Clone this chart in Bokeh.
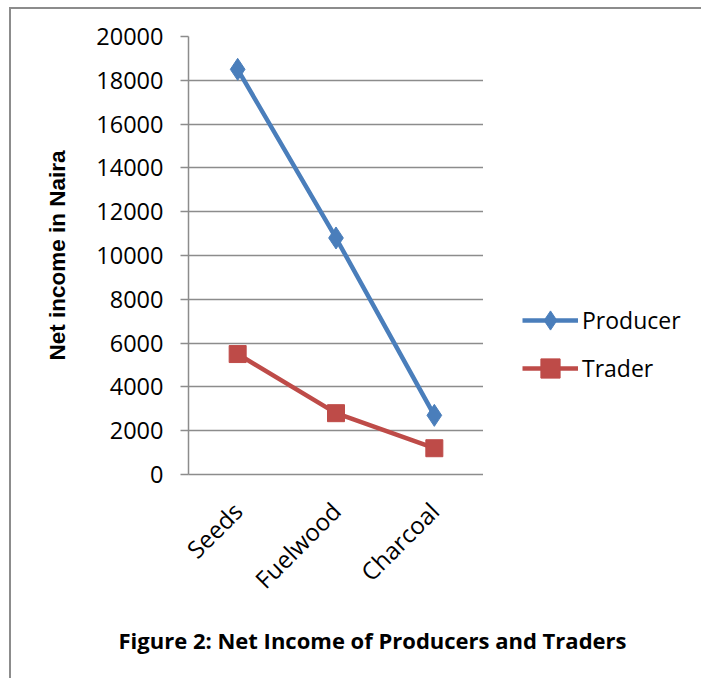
import math
from bokeh.plotting import figure
from bokeh.layouts import row, column
from bokeh.models import Legend, LegendItem, Label, FixedTicker, ColumnDataSource, Range1d
from bokeh.embed import file_html
from bokeh.resources import INLINE

categories = ["Seeds", "Fuelwood", "Charcoal"]
producer = [18500, 10800, 2700]
trader = [5500, 2800, 1200]
y_ticks = [0, 2000, 4000, 6000, 8000, 10000, 12000, 14000, 16000, 18000, 20000]
title_text = "Figure 2: Net Income of Producers and Traders"
y_label = "Net income in Naira"
series_names = ["Producer", "Trader"]

GRAY = "#8c8c8c"
BLUE = "#4a7ebb"
RED = "#be4b48"
FONT = "Open Sans"
H_MAIN = 610
H_TITLE = 59
TOP = 27
BOTTOM = H_MAIN - 465


def bare(fig):
    fig.outline_line_color = None
    fig.xgrid.grid_line_color = None
    fig.ygrid.grid_line_color = None
    fig.border_fill_color = "white"
    fig.background_fill_color = "white"


p = figure(x_range=categories, y_range=(0, 20000), width=472, height=H_MAIN,
           output_backend="svg", toolbar_location=None,
           min_border_left=177, min_border_right=0,
           min_border_top=TOP, min_border_bottom=BOTTOM)
p.outline_line_color = None
p.background_fill_color = "white"
p.border_fill_color = "white"

p.xgrid.grid_line_color = None
p.ygrid.grid_line_color = GRAY
p.ygrid.grid_line_width = 1.5
p.yaxis.ticker = FixedTicker(ticks=y_ticks)

p.yaxis.axis_line_color = GRAY
p.yaxis.axis_line_width = 1.5
p.yaxis.major_tick_line_color = GRAY
p.yaxis.major_tick_line_width = 1.5
p.yaxis.major_tick_out = 8
p.yaxis.major_tick_in = 0
p.yaxis.minor_tick_line_color = None
p.yaxis.major_label_text_font = FONT
p.yaxis.major_label_text_font_size = "23.5px"
p.yaxis.major_label_text_color = "black"
p.yaxis.major_label_standoff = 17
p.yaxis.axis_label = y_label
p.yaxis.axis_label_text_font = "Liberation Sans"
p.yaxis.axis_label_text_font_style = "bold"
p.yaxis.axis_label_text_font_size = "22.5px"
p.yaxis.axis_label_text_color = "black"
p.yaxis.axis_label_standoff = 23

p.xaxis.axis_line_color = GRAY
p.xaxis.axis_line_width = 1.5
p.xaxis.major_tick_line_color = None
p.xaxis.minor_tick_line_color = None
p.xaxis.major_tick_out = 0
p.xaxis.major_label_text_font = FONT
p.xaxis.major_label_text_font_size = "24px"
p.xaxis.major_label_text_color = "black"
p.xaxis.major_label_orientation = math.pi / 4
p.xaxis.major_label_standoff = 32

p.line(categories, producer, line_color=BLUE, line_width=4.5)
p.scatter(categories, producer, marker="diamond", size=22, fill_color=BLUE, line_color=BLUE)
p.line(categories, trader, line_color=RED, line_width=4.5)
p.scatter(categories, trader, marker="square", size=17, fill_color=RED, line_color=RED)

# legend panel to the right of the plot area
q = figure(width=218, height=H_MAIN, output_backend="svg", toolbar_location=None,
           x_axis_type=None, y_axis_type=None,
           x_range=Range1d(0, 1), y_range=Range1d(0, 1),
           min_border_left=0, min_border_right=0, min_border_top=TOP, min_border_bottom=BOTTOM)
bare(q)
off = ColumnDataSource(data=dict(x=[10, 11], y=[10, 11]))
ql1 = q.line("x", "y", source=off, line_color=BLUE, line_width=4.5)
qm1 = q.scatter("x", "y", source=off, marker="diamond", size=22, fill_color=BLUE, line_color=BLUE)
ql2 = q.line("x", "y", source=off, line_color=RED, line_width=4.5)
qm2 = q.scatter("x", "y", source=off, marker="square", size=17, fill_color=RED, line_color=RED)

legend = Legend(items=[LegendItem(label=series_names[0], renderers=[ql1, qm1]),
                       LegendItem(label=series_names[1], renderers=[ql2, qm2])],
                location=(39, 82), margin=0, padding=0,
                border_line_color=None, background_fill_alpha=0,
                glyph_width=56, glyph_height=48, spacing=-1, label_standoff=4,
                label_text_font=FONT, label_text_font_size="23px",
                label_text_color="black")
q.add_layout(legend, "center")

# caption below the chart
r = figure(width=690, height=H_TITLE, output_backend="svg", toolbar_location=None,
           x_axis_type=None, y_axis_type=None,
           x_range=Range1d(0, 1), y_range=Range1d(0, 1),
           min_border_left=0, min_border_right=0, min_border_top=0, min_border_bottom=0)
bare(r)
r.add_layout(Label(x=361, y=39, x_units="screen", y_units="screen", text=title_text,
                   text_align="center", text_baseline="middle", text_font=FONT,
                   text_font_size="22px", text_font_style="bold", text_color="black"))

layout = column(row(p, q), r, margin=(7, 0, 0, 9),
                styles={"border-left": "2px solid " + GRAY, "border-top": "2px solid " + GRAY})

open("out.html", "w").write(file_html(layout, INLINE))
